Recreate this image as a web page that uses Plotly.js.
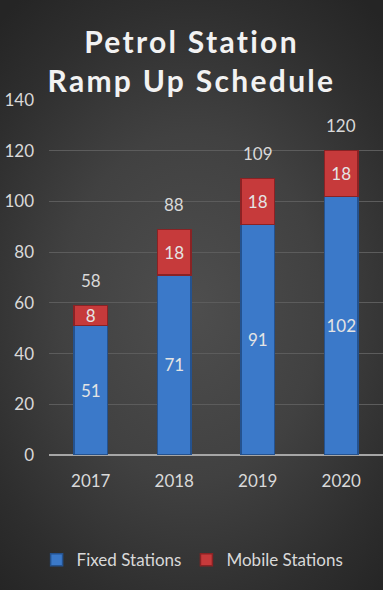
<!DOCTYPE html>
<html>
<head>
<meta charset="utf-8">
<script src="https://cdn.plot.ly/plotly-3.0.1.min.js"></script>
<style>
  html, body { margin: 0; padding: 0; }
  body {
    width: 383px; height: 590px; overflow: hidden;
    background: radial-gradient(ellipse 75% 65% at 50% 52%, #4e4e4e 0%, #414141 45%, #2e2e2e 80%, #252525 100%);
  }
  #chart { width: 383px; height: 590px; }
  .gtitle { letter-spacing: 2.3px; }
</style>
</head>
<body>
<div id="chart"></div>
<script>
const years = ['2017', '2018', '2019', '2020'];
const fixedStations = [51, 71, 91, 102];
const mobileStations = [8, 18, 18, 18];
const totalLabels = [58, 88, 109, 120];
const yTicks = [0, 20, 40, 60, 80, 100, 120, 140];

const FONT = 'Lato, "Open Sans", sans-serif';
const TXT = '#d9d9d9';

const traces = [
  {
    type: 'bar', name: 'Fixed Stations', x: years, y: fixedStations,
    text: fixedStations.map(String), textposition: 'inside', insidetextanchor: 'middle',
    textangle: 0, constraintext: 'none',
    textfont: { family: FONT, size: 17, color: '#e4e4e4' },
    marker: { color: '#3b79c9', line: { color: '#24528f', width: 1.5 } },
    hoverinfo: 'none'
  },
  {
    type: 'bar', name: 'Mobile Stations', x: years, y: mobileStations,
    text: mobileStations.map(String), textposition: 'inside', insidetextanchor: 'middle',
    textangle: 0, constraintext: 'none',
    textfont: { family: FONT, size: 17, color: '#e4e4e4' },
    marker: { color: '#c63a3b', line: { color: '#8a2224', width: 1.5 } },
    hoverinfo: 'none'
  }
];

const annotations = years.map((yr, i) => ({
  xref: 'x', yref: 'y',
  x: i, y: fixedStations[i] + mobileStations[i],
  text: String(totalLabels[i]), showarrow: false,
  yanchor: 'middle', yshift: 25,
  font: { family: FONT, size: 17, color: TXT }
}));

const layout = {
  width: 383, height: 590,
  paper_bgcolor: 'rgba(0,0,0,0)', plot_bgcolor: 'rgba(0,0,0,0)',
  margin: { l: 49, r: 0, t: 100, b: 135 },
  barmode: 'stack', bargap: 0.6,
  title: {
    text: 'Petrol Station<br>Ramp Up Schedule',
    font: { family: 'Lato, "Open Sans", sans-serif', size: 30, color: '#f2f2f2', weight: 'bold' },
    x: 0.5, xanchor: 'center', y: 0.91, yanchor: 'top'
  },
  xaxis: {
    type: 'category', categoryorder: 'array', categoryarray: years,
    range: [-0.5, 3.5], autorange: false,
    showgrid: false, showline: false, zeroline: false,
    tickfont: { family: FONT, size: 17, color: TXT }, ticks: '', ticklabelstandoff: 14
  },
  yaxis: {
    range: [0, 140], autorange: false, tickvals: yTicks, ticktext: yTicks.map(String),
    showgrid: true, gridcolor: '#5c5c5c', gridwidth: 1,
    zeroline: true, zerolinecolor: '#a6a6a6', zerolinewidth: 2,
    showline: false, ticks: '', ticklabelstandoff: 14,
    tickfont: { family: FONT, size: 17, color: TXT }
  },
  legend: {
    orientation: 'h', traceorder: 'normal', x: 0.43, xanchor: 'center', y: -0.296, yanchor: 'middle',
    font: { family: FONT, size: 17, color: TXT }, bgcolor: 'rgba(0,0,0,0)', itemwidth: 30
  },
  annotations: annotations,
  showlegend: true
};

Plotly.newPlot('chart', traces, layout, { displayModeBar: false, staticPlot: true });
</script>
</body>
</html>
